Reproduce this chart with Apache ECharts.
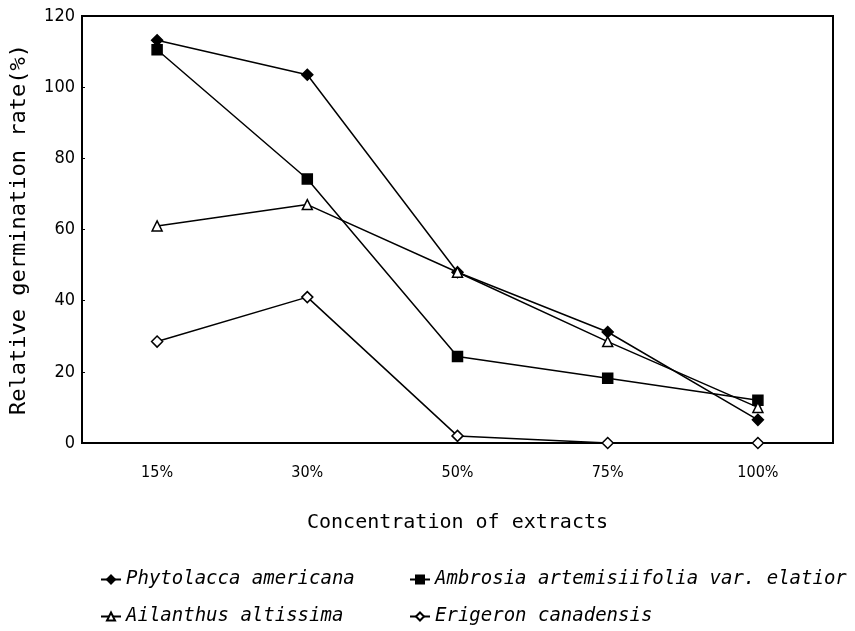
<!DOCTYPE html>
<html><head><meta charset="utf-8">
<script src="https://cdn.jsdelivr.net/npm/echarts@6/dist/echarts.min.js"></script>
<style>html,body{margin:0;padding:0;background:#fff}#c{width:855px;height:631px}</style>
</head><body><div id="c"></div>
<script>
const categories = ['15%', '30%', '50%', '75%', '100%'];
const phytolacca = [113.2, 103.5, 48, 31.2, 6.5];
const ambrosia = [110.5, 74.2, 24.3, 18.2, 12];
const ailanthus = [61, 67, 48, 28.5, 10];
const erigeron = [28.5, 41, 2, 0, 0];
const yTicks = [0, 20, 40, 60, 80, 100, 120];

const MONO = '"DejaVu Sans Mono", "Liberation Mono", monospace';
const NARROW = '"Liberation Sans Narrow", "DejaVu Sans Condensed", "Liberation Sans", sans-serif';
const chart = echarts.init(document.getElementById('c'));
function mk(name, data, symbol, filled, size) {
  return {
    name, type: 'line', data, symbol, symbolSize: size,
    lineStyle: { color: '#000', width: 1.5 },
    itemStyle: { color: filled ? '#000' : '#fff', borderColor: '#000', borderWidth: 1.5 },
    emphasis: { disabled: true }, animation: false, z: filled ? 3 : 4
  };
}
const legendText = { color: '#000', fontFamily: MONO, fontSize: 19, fontStyle: 'italic' };
chart.setOption({
  animation: false,
  grid: { left: 82, right: 22, top: 16, bottom: 188, show: true, borderColor: '#000', borderWidth: 2 },
  xAxis: {
    type: 'category', data: categories, boundaryGap: true,
    axisLine: { lineStyle: { color: '#000', width: 2 } },
    axisTick: { inside: true, length: 4, lineStyle: { color: '#000' } },
    axisLabel: { color: '#000', fontFamily: NARROW, fontSize: 16, margin: 22 },
    name: 'Concentration of extracts', nameLocation: 'middle', nameGap: 70,
    nameTextStyle: { color: '#000', fontFamily: MONO, fontSize: 20 }
  },
  yAxis: {
    type: 'value', min: yTicks[0], max: yTicks[yTicks.length - 1], interval: 20,
    axisLine: { show: true, lineStyle: { color: '#000', width: 2 } },
    axisTick: { show: true, inside: true, length: 3, lineStyle: { color: '#000' } },
    splitLine: { show: false },
    axisLabel: { color: '#000', fontFamily: NARROW, fontSize: 18, margin: 7 },
    name: 'Relative germination rate(%)', nameLocation: 'middle', nameGap: 52, nameRotate: 90,
    nameTextStyle: { color: '#000', fontFamily: MONO, fontSize: 22 }
  },
  legend: [
    { orient: 'vertical', left: 95, top: 565, itemGap: 18, itemWidth: 20, itemHeight: 10,
      data: ['Phytolacca americana', 'Ailanthus altissima'], textStyle: legendText },
    { orient: 'vertical', left: 404, top: 565, itemGap: 18, itemWidth: 20, itemHeight: 10,
      data: ['Ambrosia artemisiifolia var. elatior', 'Erigeron canadensis'], textStyle: legendText }
  ],
  series: [
    mk('Phytolacca americana', phytolacca, 'diamond', true, 11),
    mk('Ambrosia artemisiifolia var. elatior', ambrosia, 'rect', true, 10),
    mk('Ailanthus altissima', ailanthus, 'triangle', false, 10),
    mk('Erigeron canadensis', erigeron, 'diamond', false, 11)
  ]
});
</script></body></html>
